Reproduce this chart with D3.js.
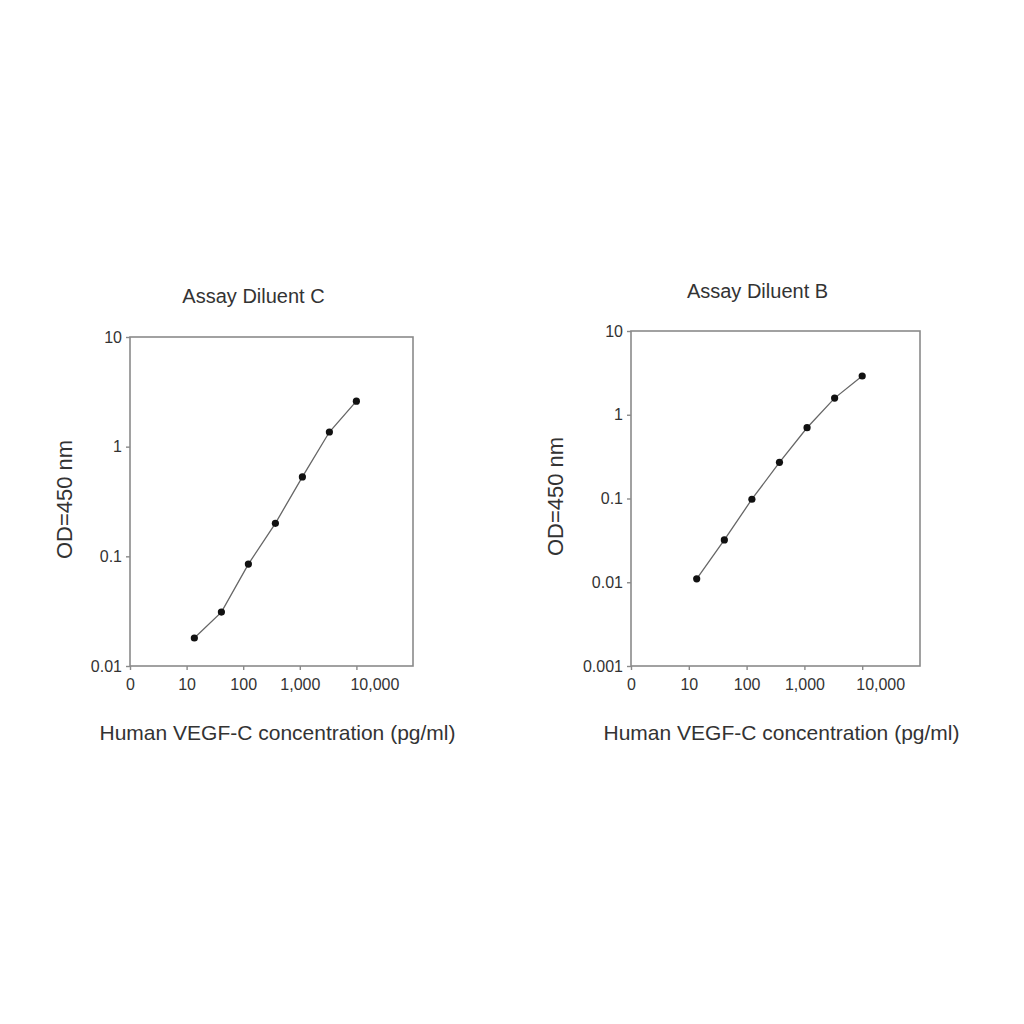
<!DOCTYPE html>
<html>
<head>
<meta charset="utf-8">
<script src="https://cdnjs.cloudflare.com/ajax/libs/d3/7.8.5/d3.min.js"></script>
<style>
  body { margin: 0; background: #fff; }
  svg text { font-family: "Liberation Sans", Arial, sans-serif; fill: #333; }
</style>
</head>
<body>
<svg id="chart" width="1024" height="1024"></svg>
<script>
// Standard curve: 3-fold dilutions of human VEGF-C (pg/ml).
var concentrations = [13.7, 41.2, 123.5, 370.4, 1111, 3333, 10000];
// OD 450 nm.
var odDiluentC = [0.018, 0.031, 0.085, 0.20, 0.53, 1.36, 2.6];
var odDiluentB = [0.011, 0.032, 0.098, 0.27, 0.70, 1.58, 2.9];

var xTickValues = [1, 10, 100, 1000, 10000];
var xTickLabels = ['0', '10', '100', '1,000', '10,000'];
var yTicksC = [0.01, 0.1, 1, 10];
var yTickLabelsC = ['0.01', '0.1', '1', '10'];
var yTicksB = [0.001, 0.01, 0.1, 1, 10];
var yTickLabelsB = ['0.001', '0.01', '0.1', '1', '10'];

var panels = [
  {
    title: 'Assay Diluent C',
    values: odDiluentC,
    yTicks: yTicksC,
    yLabels: yTickLabelsC,
    left: 130, right: 413, top: 337, bottom: 666,
    titleY: 303, yLabelX: 72
  },
  {
    title: 'Assay Diluent B',
    values: odDiluentB,
    yTicks: yTicksB,
    yLabels: yTickLabelsB,
    left: 631, right: 920, top: 331, bottom: 666,
    titleY: 298, yLabelX: 563
  }
];

var svg = d3.select('#chart');

/**
 * Draws one standard-curve panel.
 * @param {!Object} p panel description
 */
function drawPanel(p) {
  var g = svg.append('g');
  var x = d3.scaleLog()
    .domain([1, 100000])
    .range([p.left, p.right]);
  var y = d3.scaleLog()
    .domain([p.yTicks[0], p.yTicks[p.yTicks.length - 1]])
    .range([p.bottom, p.top]);

  // frame
  g.append('rect')
    .attr('x', p.left)
    .attr('y', p.top)
    .attr('width', p.right - p.left)
    .attr('height', p.bottom - p.top)
    .attr('fill', 'none')
    .attr('stroke', '#8a8a8a')
    .attr('stroke-width', 1.6);

  var xAxis = g.append('g')
    .attr('transform', 'translate(0,' + p.bottom + ')')
    .call(d3.axisBottom(x)
      .tickValues(xTickValues)
      .tickSize(4)
      .tickPadding(9)
      .tickFormat(function(d, i) { return xTickLabels[i]; }));
  // the last label sits a bit right of its tick in the original
  xAxis.selectAll('.tick text')
    .attr('dx', function(d, i) { return i == xTickValues.length - 1 ? 18 : 0; });

  var yAxis = g.append('g')
    .attr('transform', 'translate(' + p.left + ',0)')
    .call(d3.axisLeft(y)
      .tickValues(p.yTicks)
      .tickSize(4)
      .tickPadding(4)
      .tickFormat(function(d, i) { return p.yLabels[i]; }));

  [xAxis, yAxis].forEach(function(a) {
    a.select('.domain').remove();
    a.selectAll('.tick line').attr('stroke', '#8a8a8a').attr('stroke-width', 1.4);
    a.selectAll('.tick text')
      .style('font-family', '"Liberation Sans", Arial, sans-serif')
      .style('font-size', '16px')
      .attr('fill', '#333');
  });

  var points = concentrations.map(function(c, i) {
    return [x(c), y(p.values[i])];
  });

  g.append('path')
    .attr('d', d3.line()(points))
    .attr('fill', 'none')
    .attr('stroke', '#666')
    .attr('stroke-width', 1.3);

  g.selectAll('circle')
    .data(points)
    .enter().append('circle')
    .attr('cx', function(d) { return d[0]; })
    .attr('cy', function(d) { return d[1]; })
    .attr('r', 3.6)
    .attr('fill', '#111');

  var cx = (p.left + p.right) / 2;
  g.append('text')
    .attr('x', cx - 18)
    .attr('y', p.titleY)
    .attr('text-anchor', 'middle')
    .style('font-size', '20px')
    .text(p.title);

  g.append('text')
    .attr('x', cx + 6)
    .attr('y', 740)
    .attr('text-anchor', 'middle')
    .style('font-size', '21px')
    .text('Human VEGF-C concentration (pg/ml)');

  var ly = (p.top + p.bottom) / 2 - 2;
  g.append('text')
    .attr('transform', 'translate(' + p.yLabelX + ',' + ly + ') rotate(-90)')
    .attr('text-anchor', 'middle')
    .style('font-size', '22px')
    .text('OD=450 nm');
}

panels.forEach(drawPanel);
</script>
</body>
</html>
